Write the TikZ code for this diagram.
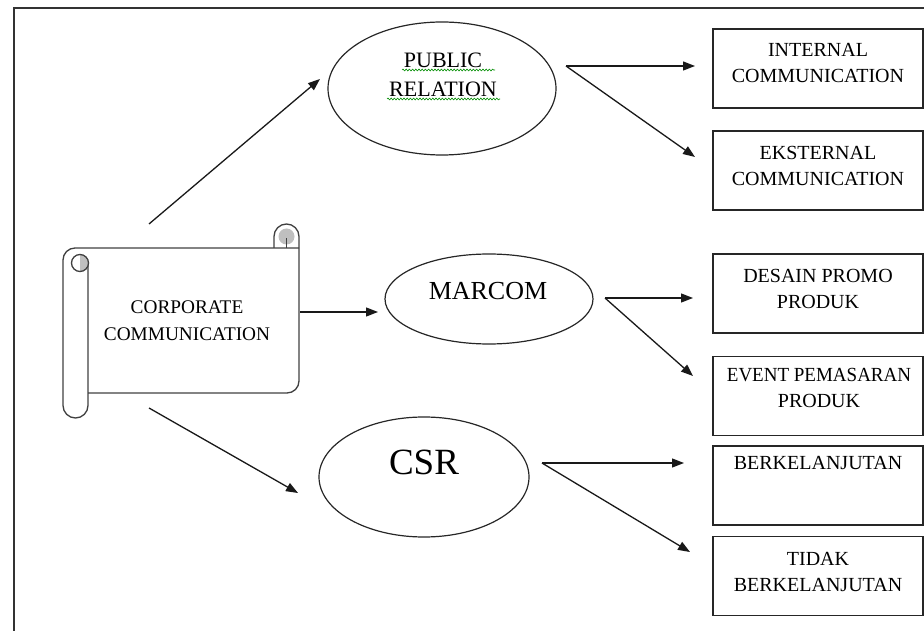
\documentclass[tikz,border=0pt]{standalone}
\usepackage{fontspec}
\setmainfont{Liberation Serif}
\usetikzlibrary{arrows.meta,shapes.geometric,decorations.pathmorphing}
\begin{document}
\begin{tikzpicture}[x=1pt,y=1pt,
  line width=1.3pt,
  boxnode/.style={draw=black!85, line width=1.4pt, minimum width=210pt, minimum height=79pt, inner sep=0pt},
  ovalnode/.style={draw=black!85, ellipse, inner sep=0pt, line width=1.2pt},
  txt/.style={inner sep=0pt, align=center, font=\fontsize{20}{26}\selectfont},
  arr/.style={-{Triangle[length=12pt,width=9pt]}, line width=1.3pt, draw=black!90},
  squig/.style={draw=green!55!black, line width=0.6pt, decorate,
    decoration={snake, segment length=3.2pt, amplitude=0.9pt}},
  rollfill/.style={fill=black!25},
  scrollline/.style={draw=black!75, line width=1.3pt}
]
\useasboundingbox (0,0) rectangle (924,630);
% outer frame
\draw[line width=1.4pt, black!80] (14,-10) -- (14,622) -- (940,622);

% ---------- scroll (CORPORATE COMMUNICATION) ----------
\node[minimum width=237pt, minimum height=193pt, inner sep=0pt] (cc) at (181.5,308.5) {};
% right roll
\fill[rollfill] (286.5,393.5) circle[radius=8];
\draw[scrollline] (274,382) -- (274,393.5) arc[start angle=180,end angle=0,radius=12.5] -- (299,249)
      arc[start angle=0,end angle=-90,radius=12] -- (88,237);
\draw[scrollline] (286.5,382) -- (286.5,392);
% sheet top and left roll
\draw[scrollline] (299,382) -- (75,382) arc[start angle=90,end angle=180,radius=12] -- (63,224.5)
      arc[start angle=180,end angle=360,radius=12.5] -- (88,367);
\fill[rollfill] (80,358.5) arc[start angle=-90,end angle=90,radius=8.5] -- cycle;
\draw[scrollline] (80,367) circle[radius=8.5];
\node[txt, font=\fontsize{19.3}{27}\selectfont] (ccT) at (187,309) {CORPORATE\\COMMUNICATION};

% ---------- ellipses ----------
\node[ovalnode, minimum width=228pt, minimum height=133pt] (pr) at (442,541.5) {};
\node[txt, font=\fontsize{22}{29}\selectfont] (prT) at (443,555) {PUBLIC\\RELATION};
\draw[squig] (402,560) -- (495,560);
\draw[squig] (387,531) -- (500,531);

\node[ovalnode, minimum width=208pt, minimum height=90pt] (mc) at (489,331) {};
\node[txt, font=\fontsize{26}{30}\selectfont] (mcT) at (488,339) {MARCOM};

\node[ovalnode, minimum width=210pt, minimum height=120pt] (csr) at (424,153) {};
\node[txt, font=\fontsize{37}{40}\selectfont] (csrT) at (424,167.5) {CSR};

% ---------- boxes ----------
\node[boxnode] (int) at (818,561.5) {};
\node[txt] (intT) at (818,567) {INTERNAL\\COMMUNICATION};
\node[boxnode] (eks) at (818,459.5) {};
\node[txt] (eksT) at (818,464.25) {EKSTERNAL\\COMMUNICATION};
\node[boxnode] (des) at (818,336.5) {};
\node[txt] (desT) at (818,341.25) {DESAIN PROMO\\PRODUK};
\node[boxnode] (evt) at (818,234) {};
\node[txt] (evtT) at (819,241.75) {\scalebox{0.95}[1]{EVENT PEMASARAN}\\PRODUK};
\node[boxnode] (ber) at (818,144.5) {};
\node[txt] (berT) at (818,167) {BERKELANJUTAN};
\node[boxnode] (tid) at (818,54) {};
\node[txt] (tidT) at (818,58) {TIDAK\\BERKELANJUTAN};

% ---------- connectors ----------
\coordinate (a1s) at (149,406);  \coordinate (a1e) at (320,551);
\coordinate (a2s) at (300,318);  \coordinate (a2e) at (378,318);
\coordinate (a3s) at (149,222);  \coordinate (a3e) at (298,137);
\coordinate (bs) at (566,564);   \coordinate (b1e) at (695,564); \coordinate (b2e) at (695,473);
\coordinate (cs) at (605,332);   \coordinate (c1e) at (693,332); \coordinate (c2e) at (693,254);
\coordinate (ds) at (542,167);   \coordinate (d1e) at (684,167); \coordinate (d2e) at (690,78);

\draw[arr] (a1s) -- (a1e);
\draw[arr] (a2s) -- (a2e);
\draw[arr] (a3s) -- (a3e);
\draw[arr] (bs) -- (b1e);
\draw[arr] (bs) -- (b2e);
\draw[arr] (cs) -- (c1e);
\draw[arr] (cs) -- (c2e);
\draw[arr] (ds) -- (d1e);
\draw[arr] (ds) -- (d2e);
\end{tikzpicture}
\end{document}
